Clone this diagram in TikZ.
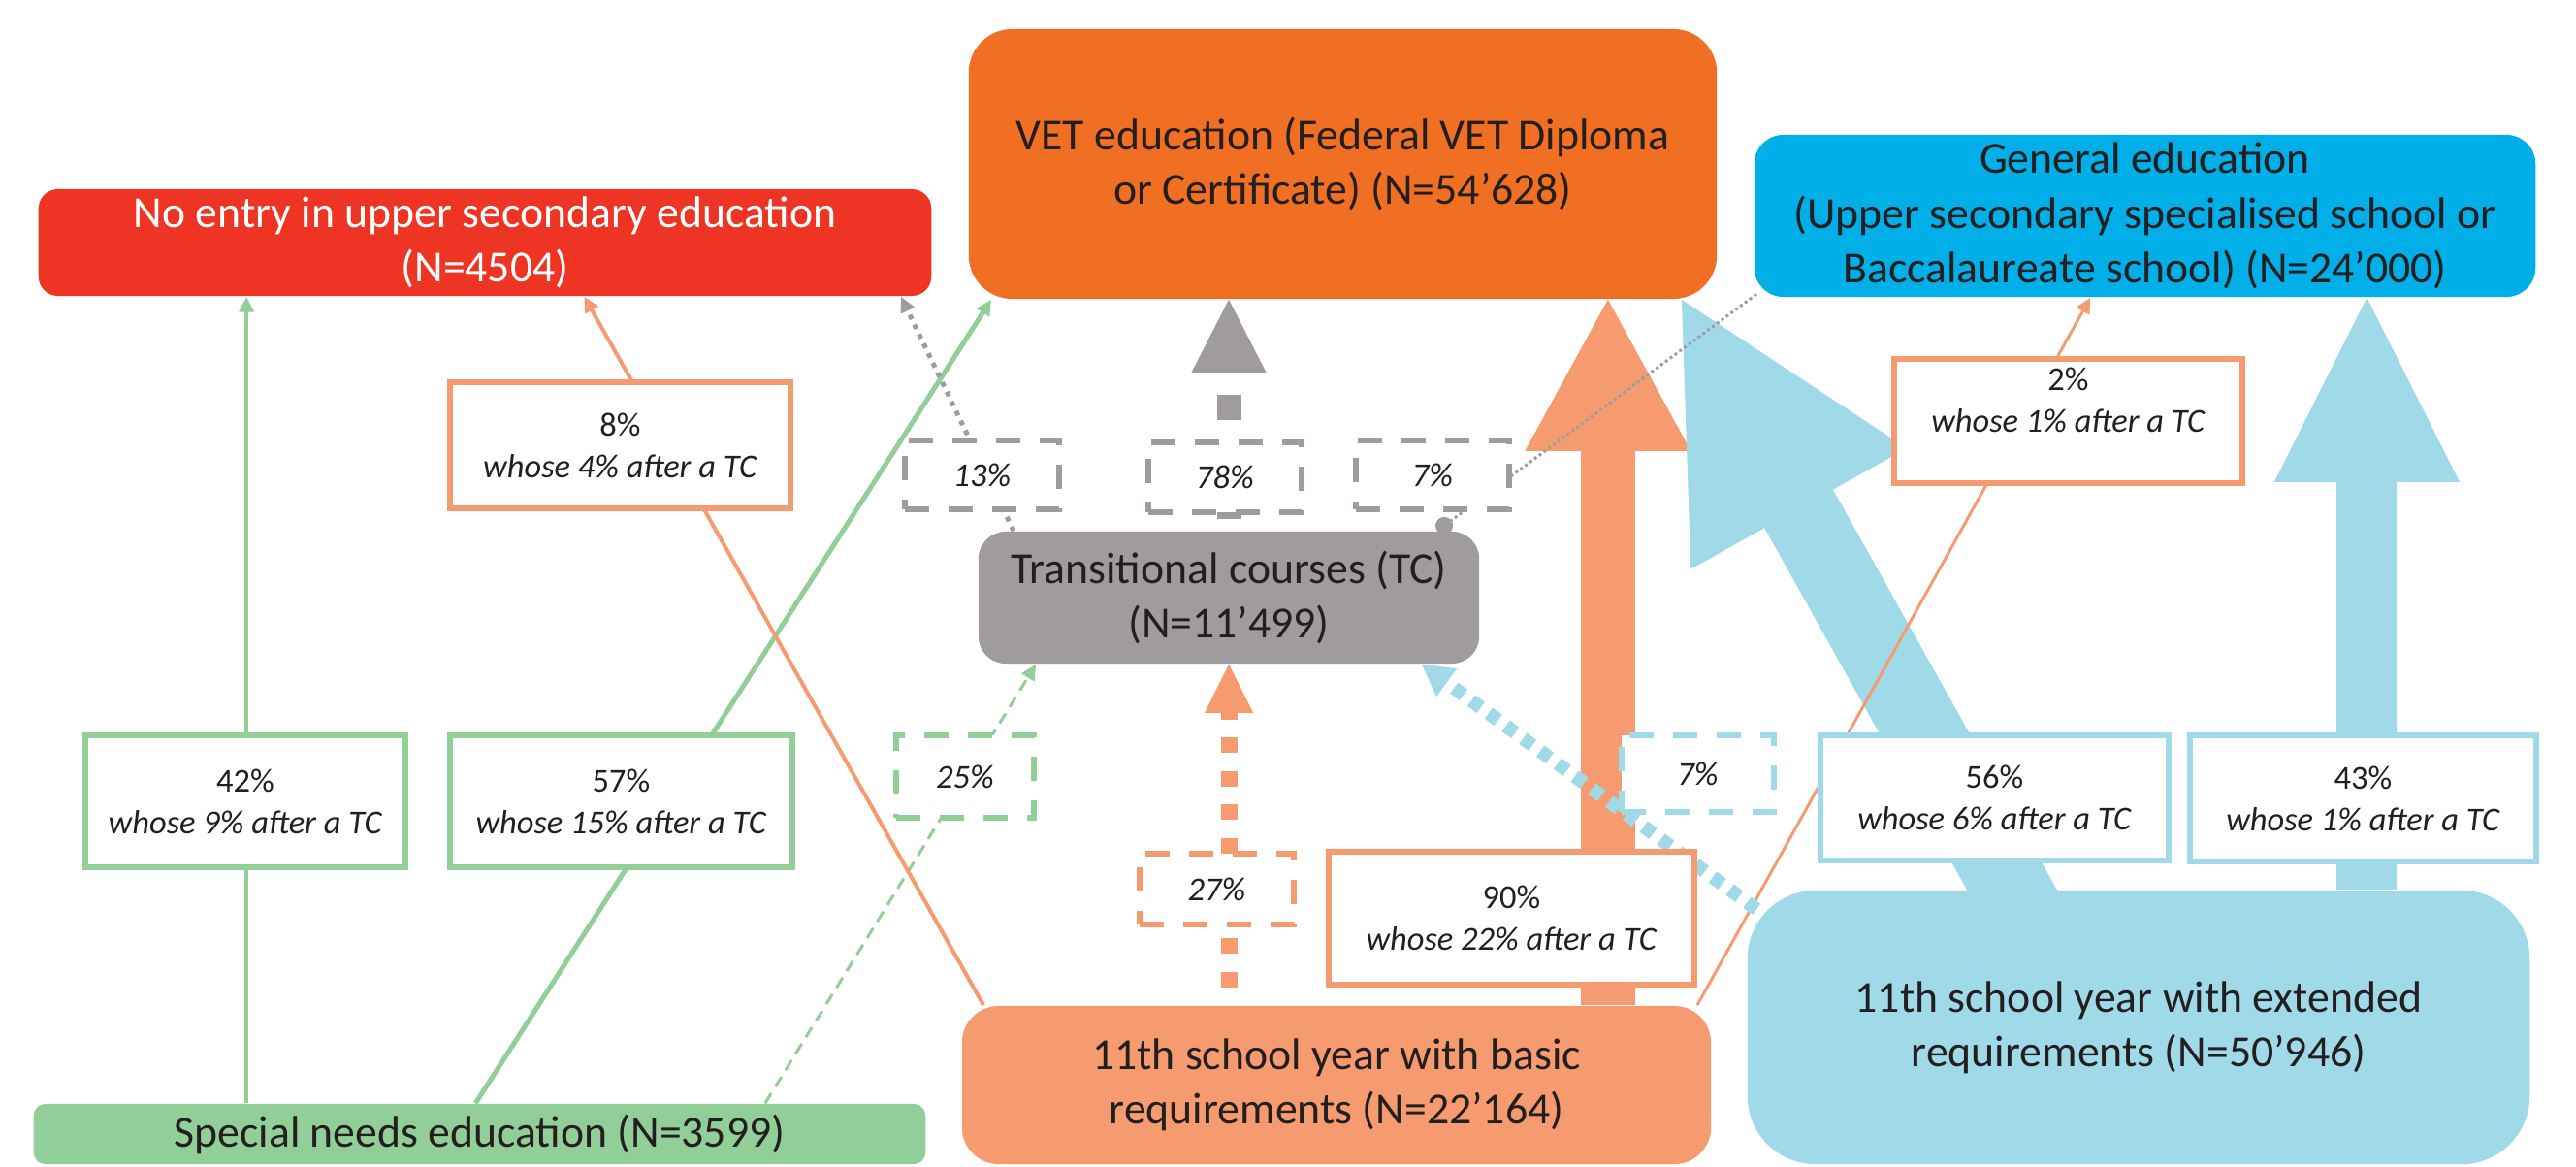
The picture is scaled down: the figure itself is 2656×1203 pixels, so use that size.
\documentclass[tikz,border=0pt]{standalone}
\usepackage{fontspec}
\setmainfont{Carlito}
\usetikzlibrary{arrows.meta}

\definecolor{noentry}{HTML}{EE3524}
\definecolor{vet}{HTML}{F16F23}
\definecolor{general}{HTML}{00AEE8}
\definecolor{tcgray}{HTML}{A09C9D}
\definecolor{basic}{HTML}{F69B70}
\definecolor{extended}{HTML}{A0DAE8}
\definecolor{special}{HTML}{92CE98}
\definecolor{ink}{HTML}{231F20}

\begin{document}
\begin{tikzpicture}[x=0.01cm, y=-0.01cm,
    every node/.style={text=ink, align=center},
    school/.style={rounded corners=#1, inner sep=0pt, font=\fontsize{13}{16}\selectfont},
    share/.style={draw=#1, fill=white, line width=0.06cm, inner sep=0pt,
        font=\fontsize{9.8}{12.2}\selectfont},
    viatc/.style={share=#1, dash pattern=on 0.25cm off 0.2cm, font=\fontsize{9.8}{12.2}\selectfont\itshape},
    thintip/.style={-{Triangle[length=0.16cm 0 0, width=0.15cm 0 0]}},
    bigarrow/.style n args={3}{line width=#1,
        -{Triangle[length=#2 0 0, width=#3 0 0, line width=0pt 0 0]}},
    ]
    \useasboundingbox (0,0) rectangle (2656,1203);

    % where they go
    \node[school=0.2cm, fill=noentry, text=white, minimum width=9.2cm, minimum height=1.1cm]
        (noentry) at (500,250) {No entry in upper secondary education\\(N=4504)};
    \node[school=0.45cm, fill=vet, minimum width=7.71cm, minimum height=2.78cm]
        (vet) at (1384.5,169) {VET education (Federal VET Diploma\\or Certificate) (N=54’628)};
    \node[school=0.3cm, fill=general, minimum width=8.05cm, minimum height=1.67cm]
        (general) at (2211.5,222.5) {General education\\(Upper secondary specialised school or\\Baccalaureate school) (N=24’000)};

    % where they come from
    \node[school=0.28cm, fill=tcgray, minimum width=5.16cm, minimum height=1.36cm]
        (tc) at (1267,616) {Transitional courses (TC)\\(N=11’499)};
    \node[school=0.12cm, fill=special, minimum width=9.19cm, minimum height=0.62cm]
        (special) at (494.5,1169) {Special needs education (N=3599)};
    \node[school=0.38cm, fill=basic, minimum width=7.72cm, minimum height=1.63cm]
        (basic) at (1378,1118.5) {11th school year with basic\\requirements (N=22’164)};
    \node[school=0.7cm, fill=extended, minimum width=8.06cm, minimum height=2.82cm]
        (extended) at (2205,1059) {11th school year with extended\\requirements (N=50’946)};

    % big flows
    \coordinate (bo) at ([xshift=-1.07cm]basic.north east);
    \coordinate (be) at ([xshift=6.39cm]extended.north west);
    \draw[basic, bigarrow={0.56cm}{1.56cm}{1.71cm}] (bo) -- (bo |- vet.south);
    \draw[extended, bigarrow={0.62cm}{1.9cm}{1.91cm}] (be) -- (be |- general.south);
    \draw[extended, bigarrow={0.81cm}{2.47cm}{2.55cm}]
        ([xshift=2.9cm, yshift=-0.3cm]extended.north west) -- ([xshift=-0.37cm]vet.south east);

    % thin flows
    \coordinate (s1) at ([xshift=2.2cm]special.north west);
    \draw[special, line width=0.04cm, thintip] (s1) -- (s1 |- noentry.south);
    \draw[special, line width=0.05cm, thintip]
        ([xshift=4.56cm]special.north west) -- ([xshift=0.24cm]vet.south west);
    \draw[special, line width=0.03cm, dash pattern=on 0.12cm off 0.08cm, thintip]
        ([xshift=-1.66cm]special.north east) -- ([xshift=0.6cm]tc.south west);
    \draw[basic, line width=0.04cm, thintip]
        ([xshift=0.23cm]basic.north west) -- ([xshift=5.63cm]noentry.south west);
    \draw[basic, line width=0.03cm, thintip]
        ([xshift=-0.15cm]basic.north east) -- ([xshift=3.47cm]general.south west);
    \draw[basic, line width=0.17cm, dash pattern=on 0.16cm off 0.185cm, dash phase=0.16cm,
        -{Triangle[length=0.5cm 0 0, width=0.5cm 0 0, line width=0pt 0 0]}]
        (tc.south |- basic.north) -- (tc.south);
    \draw[tcgray, line width=0.25cm, dash pattern=on 0.26cm off 0.25cm, dash phase=0.39cm,
        -{Triangle[length=0.76cm 0 0, width=0.78cm 0 0, line width=0pt 0 0]}]
        (tc.north) -- (tc.north |- vet.south);
    \draw[tcgray, line width=0.05cm, dash pattern=on 0.05cm off 0.06cm, thintip]
        ([xshift=0.37cm]tc.north west) -- ([xshift=-0.32cm]noentry.south east);
    \draw[tcgray, line width=0.03cm, dash pattern=on 0.03cm off 0.03cm,
        {Circle[length=0.18cm 0 0]}-]
        ([xshift=-0.44cm]tc.north east) -- ([xshift=0.05cm, yshift=0.05cm]general.south west);
    \draw[extended, line width=0.14cm, dash pattern=on 0.12cm off 0.1cm,
        -{Triangle[length=0.32cm 0 0, width=0.36cm 0 0, line width=0pt 0 0]}]
        ([xshift=0.1cm, yshift=-0.2cm]extended.north west) -- ([xshift=-0.6cm]tc.south east);

    % shares on the flows
    \node[share=special, minimum width=3.3cm, minimum height=1.36cm] (p42) at (253,826)
        {42\%\\\textit{whose 9\% after a TC}};
    \node[share=special, minimum width=3.53cm, minimum height=1.36cm] (p57) at (640.5,826)
        {57\%\\\textit{whose 15\% after a TC}};
    \node[viatc=special, minimum width=1.42cm, minimum height=0.85cm] (p25) at (995,800.5) {25\%};
    \node[share=basic, minimum width=3.51cm, minimum height=1.3cm] (p8) at (639.5,459)
        {8\%\\\textit{whose 4\% after a TC}};
    \node[viatc=basic, minimum width=1.59cm, minimum height=0.73cm] (p27) at (1254.5,916.5) {27\%};
    \node[share=basic, minimum width=3.77cm, minimum height=1.37cm] (p90) at (1558.5,946.5)
        {90\%\\\textit{whose 22\% after a TC}};
    \node[share=basic, minimum width=3.59cm, minimum height=1.28cm] (p2) at (2132.5,434)
        {2\%\\\textit{whose 1\% after a TC}\\\mbox{}};
    \node[viatc=tcgray, minimum width=1.59cm, minimum height=0.71cm] (p13) at (1012.5,489.5) {13\%};
    \node[viatc=tcgray, minimum width=1.58cm, minimum height=0.72cm] (p78) at (1263,492) {78\%};
    \node[viatc=tcgray, minimum width=1.58cm, minimum height=0.71cm] (p7g) at (1477,489.5) {7\%};
    \node[viatc=extended, minimum width=1.57cm, minimum height=0.79cm] (p7b) at (1750.5,797.5) {7\%};
    \node[share=extended, minimum width=3.59cm, minimum height=1.29cm] (p56) at (2056.5,822.5)
        {56\%\\\textit{whose 6\% after a TC}};
    \node[share=extended, minimum width=3.57cm, minimum height=1.3cm] (p43) at (2436.5,823)
        {43\%\\\textit{whose 1\% after a TC}};
\end{tikzpicture}
\end{document}
